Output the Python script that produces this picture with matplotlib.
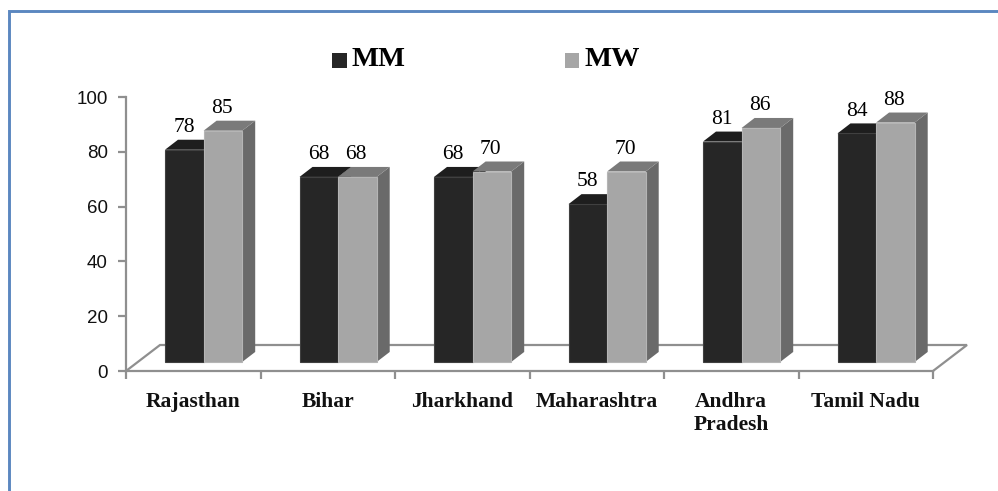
import numpy as np
import matplotlib
matplotlib.use("Agg")
import matplotlib.pyplot as plt
from matplotlib.patches import Polygon, Rectangle

states = ["Rajasthan", "Bihar", "Jharkhand", "Maharashtra", "Andhra\nPradesh", "Tamil Nadu"]
mm = [78, 68, 68, 58, 81, 84]
mw = [85, 68, 70, 70, 86, 88]
yticks = [0, 20, 40, 60, 80, 100]

W, H = 998, 491
fig = plt.figure(figsize=(W / 100, H / 100), dpi=100)

# axes box is the front edge of the chart floor, in pixels
left, right, bottom, top = 126, 933, 371, 97
ax = fig.add_axes([left / W, 1 - bottom / H, (right - left) / W, (bottom - top) / H])
ax.set_xlim(0, 6)
ax.set_ylim(0, 100)
ax.patch.set_visible(False)
for s in ["top", "right"]:
    ax.spines[s].set_visible(False)
axis_col = "#8f8f8f"
for s in ["left", "bottom"]:
    ax.spines[s].set_color(axis_col)
    ax.spines[s].set_linewidth(1.6)

ax.set_yticks(yticks)
ax.set_yticklabels([str(v) for v in yticks], family="Liberation Sans", fontsize=13.5, color="#111111")
ax.set_xticks(range(7))
ax.set_xticklabels([])
ax.tick_params(axis="y", color=axis_col, width=1.6, length=6, pad=7)
ax.tick_params(axis="x", color=axis_col, width=1.6, length=6, pad=3)

# 3d look: everything behind the front plane is shifted by dx, dy
dx = 13 / (right - left) * 6
dy = 10 / (bottom - top) * 100
floor_x = 34 / (right - left) * 6
floor_y = 26 / (bottom - top) * 100
ax.add_patch(Polygon([(0, 0), (floor_x, floor_y), (6 + floor_x, floor_y), (6, 0)],
                     closed=False, fill=False, ec=axis_col, lw=1.6, clip_on=False, zorder=1))

base = 3.3
scale = 0.993
bar_w = 0.287
start = 0.29


def draw_bar(x0, val, front, top_col, side_col, edge):
    y1 = base + val * scale
    ax.add_patch(Polygon([(x0 + bar_w, base), (x0 + bar_w + dx, base + dy),
                          (x0 + bar_w + dx, y1 + dy), (x0 + bar_w, y1)],
                         fc=side_col, ec="none", clip_on=False, zorder=3))
    ax.add_patch(Polygon([(x0, y1), (x0 + dx, y1 + dy), (x0 + bar_w + dx, y1 + dy), (x0 + bar_w, y1)],
                         fc=top_col, ec="none", clip_on=False, zorder=3))
    ax.add_patch(Rectangle((x0, base), bar_w, val * scale, fc=front, ec=edge, lw=0.8,
                           clip_on=False, zorder=4))


for i in range(len(states)):
    x0 = i + start
    draw_bar(x0, mm[i], "#262626", "#1e1e1e", "#1e1e1e", "#404040")
    draw_bar(x0 + bar_w, mw[i], "#a6a6a6", "#7a7a7a", "#6a6a6a", "#b5b5b5")
    ax.text(x0 + bar_w * 0.5, base + mm[i] * scale + dy + 1, str(mm[i]), ha="center", va="bottom",
            family="Liberation Serif", fontsize=15.5, color="black", zorder=5)
    ax.text(x0 + bar_w * 1.5 - 0.01, base + mw[i] * scale + dy + 1, str(mw[i]), ha="center", va="bottom",
            family="Liberation Serif", fontsize=15.5, color="black", zorder=5)
    ax.text(i + 0.5, -7.5, states[i], ha="center", va="top", family="Liberation Serif",
            fontweight="bold", fontsize=15.5, color="#111111", linespacing=1.2)

# legend sits in figure pixels above the plot
fx = fig.add_axes([0, 0, 1, 1])
fx.set_xlim(0, W)
fx.set_ylim(H, 0)
fx.axis("off")
fx.patch.set_visible(False)
fx.add_patch(Rectangle((332, 53), 15, 15, fc="#262626", ec="none"))
fx.add_patch(Rectangle((565, 53), 14, 15, fc="#a6a6a6", ec="none"))
fx.text(352, 59, "MM", family="Liberation Serif", fontweight="bold", fontsize=20.5, va="center")
fx.text(585, 59, "MW", family="Liberation Serif", fontweight="bold", fontsize=20.5, va="center")

# blue frame: left and top edges only
frame_col = "#5b87c0"
fx.plot([8.7, 8.7, 998], [491, 10.5, 10.5], color=frame_col, lw=2.1, solid_joinstyle="miter")

fig.savefig("out.png", dpi=100)
